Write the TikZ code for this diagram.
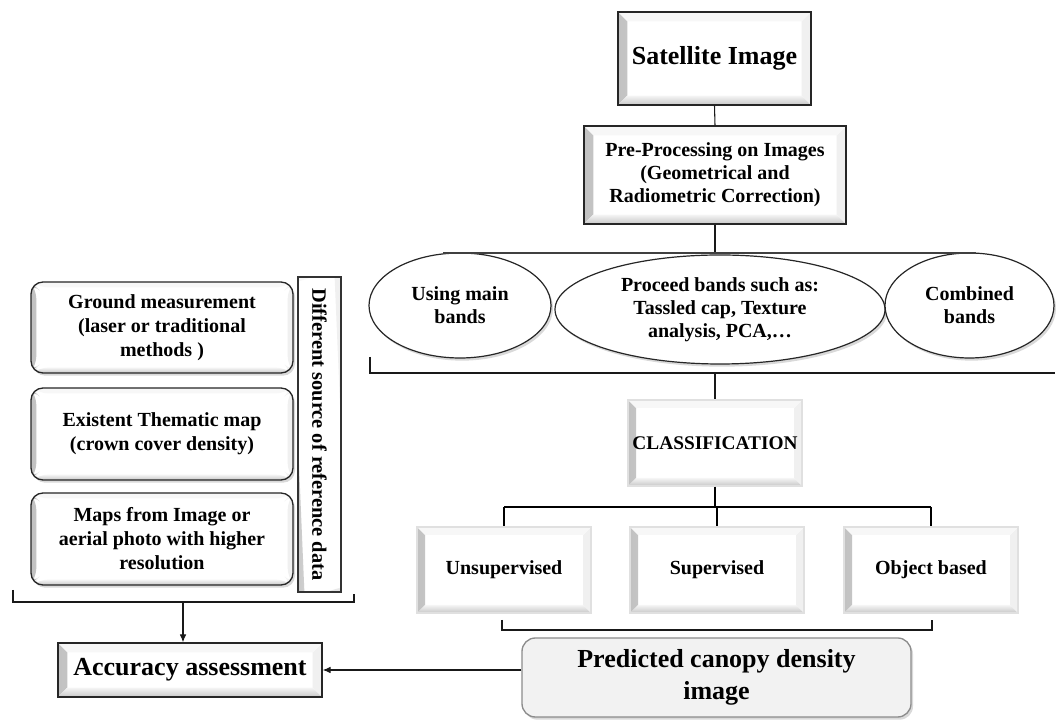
\documentclass[tikz,border=0pt]{standalone}
\usepackage{fontspec}
\setmainfont{Liberation Serif}
\usetikzlibrary{arrows.meta}
\usetikzlibrary{shapes.geometric}
\usetikzlibrary{shadows}

\begin{document}
\begin{tikzpicture}[x=0.75pt, y=0.75pt,
    bevel/.style={path picture={
        \shade[left color=black!24, right color=black!4]
            (path picture bounding box.south west) -- (path picture bounding box.north west)
            -- ([shift={(#1,-#1)}]path picture bounding box.north west)
            -- ([shift={(#1,#1)}]path picture bounding box.south west) -- cycle;
        \shade[top color=black!4, bottom color=black!22]
            (path picture bounding box.south west) -- (path picture bounding box.south east)
            -- ([shift={(-#1,#1)}]path picture bounding box.south east)
            -- ([shift={(#1,#1)}]path picture bounding box.south west) -- cycle;
        \fill[black!6]
            (path picture bounding box.south east) -- (path picture bounding box.north east)
            -- ([shift={(-#1,-#1)}]path picture bounding box.north east)
            -- ([shift={(-#1,#1)}]path picture bounding box.south east) -- cycle;
        \fill[black!3]
            (path picture bounding box.north west) -- (path picture bounding box.north east)
            -- ([shift={(-#1,-#1)}]path picture bounding box.north east)
            -- ([shift={(#1,-#1)}]path picture bounding box.north west) -- cycle;
    }},
    bevel/.default=7pt,
    txt/.style 2 args={align=center, font=\bfseries\fontsize{#1}{#2}\selectfont},
    darkbox/.style={draw=black!85, line width=1pt, fill=white, bevel},
    softbox/.style={draw=black!12, line width=0.8pt, fill=white, bevel=6pt,
        minimum width=130.5pt, minimum height=64.5pt, txt={15}{17.25}},
    band/.style={ellipse, draw=black!85, line width=0.9pt, fill=white, inner sep=0pt,
        drop shadow={shadow xshift=1.5pt, shadow yshift=-2pt, opacity=0.3}, txt={15}{17.25}},
    source/.style={rounded corners=9pt, draw=black!85, line width=1pt, fill=white, bevel=4pt,
        drop shadow={shadow xshift=1.5pt, shadow yshift=-2pt, opacity=0.3},
        minimum width=196.5pt, txt={15}{18}},
    conn/.style={line width=0.8pt, black!90}
]

\useasboundingbox (0,0) rectangle (1056,720);

% Image and pre-processing
\node[darkbox, minimum width=144.75pt, minimum height=69.75pt, txt={19.5}{23}] (sat) at (714.5,661.5) {Satellite Image};
\node[darkbox, minimum width=196.5pt, minimum height=73.5pt, txt={15}{17.25}] (pre) at (715,545)
    {Pre-Processing on Images\\(Geometrical and\\Radiometric Correction)};

% Bands
\node[band, minimum width=136.5pt, minimum height=78.75pt] (mainbands) at (460,414.5) {Using main\\bands};
\node[band, minimum width=247.5pt, minimum height=81.75pt] (procbands) at (720,410.5)
    {Proceed bands such as:\\Tassled cap, Texture\\analysis, PCA,…};
\node[band, minimum width=126.75pt, minimum height=78.75pt] (combbands) at (969.5,414.5) {Combined\\bands};

% Classification
\node[softbox, txt={14.5}{17}] (cls) at (715,277) {CLASSIFICATION};
\node[softbox] (unsup) at (504,150) {Unsupervised};
\node[softbox] (sup) at (717,150) {Supervised};
\node[softbox] (objb) at (931,150) {Object based};

% Outputs
\node[rounded corners=10pt, draw=black!45, line width=1pt, fill=black!5,
    drop shadow={shadow xshift=1.5pt, shadow yshift=-2pt, opacity=0.3},
    minimum width=291.75pt, minimum height=59.25pt, txt={19.5}{24}] (pred) at (716.5,42.5)
    {Predicted canopy density\\image};
\node[darkbox, minimum width=198pt, minimum height=40.5pt, txt={19.5}{23}] (acc) at (190,50) {Accuracy assessment};

% Reference data
\node[source, minimum height=68.25pt] (ground) at (162,392.5) {Ground measurement\\(laser or traditional\\methods )};
\node[source, minimum height=69pt] (thematic) at (162,286) {Existent Thematic map\\(crown cover density)};
\node[source, minimum height=69pt] (hires) at (162,181) {Maps from Image or\\aerial photo with higher\\resolution};
\node[draw=black!80, line width=0.8pt, fill=white, bevel=5pt, rotate=-90, inner sep=1pt,
    minimum width=236.25pt, minimum height=32.25pt, txt={15.3}{19}] (refdata) at (319.5,285.5)
    {Different source of reference data};

% Connectors
\coordinate (bandsL) at (443,467);
\coordinate (bandsR) at (976,467);
\coordinate (bandsB) at (370,363);
\coordinate (bandsE) at (1055,347);
\coordinate (split) at (715,213);
\coordinate (clsB) at (502,100);
\coordinate (clsE) at (932,100);
\coordinate (srcB) at (13,130);
\coordinate (srcE) at (354,126);
\coordinate (srcM) at (183,118);

\draw[conn] (sat.south) -- (pre.north);
\draw[conn] (pre.south) -- (pre.south |- bandsL);
\draw[line width=1.3pt, black!75] (bandsL) -- (bandsR);
\draw[conn] (bandsB) |- (bandsE);
\draw[conn] (cls.north |- bandsE) -- (cls.north);

\draw[line width=1.4pt] (cls.south) -- (split);
\draw[line width=1.2pt] (unsup.north |- split) -- (objb.north |- split);
\foreach \c in {unsup, sup, objb}
    \draw[line width=0.9pt] (\c.north |- split) -- (\c.north);
\draw[conn] (clsB) -- ++(0,-10) -| (clsE);

\draw[conn] (srcB) -- (13,118) -- (354,118) -- (srcE);
\draw[conn, -{Latex[length=6pt, width=5pt]}] (srcM) -- (srcM |- acc.north);
\draw[conn, -{Latex[length=6pt, width=5pt]}] (pred.west |- acc.east) -- (acc.east);

\end{tikzpicture}
\end{document}
